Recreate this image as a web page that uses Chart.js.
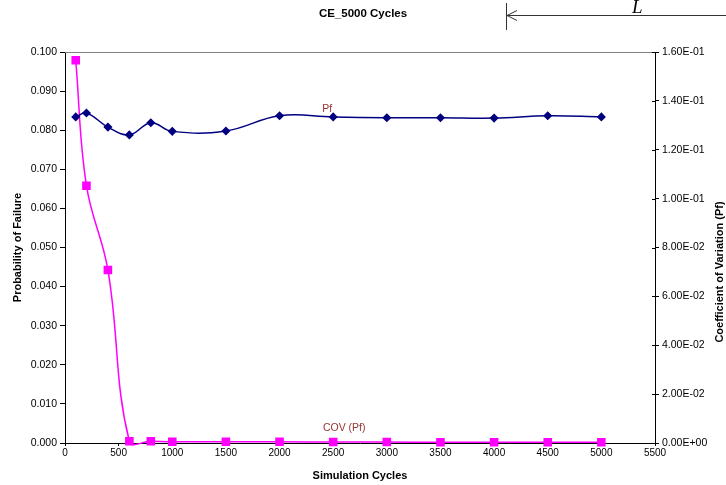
<!DOCTYPE html>
<html>
<head>
<meta charset="utf-8">
<script src="https://cdn.jsdelivr.net/npm/chart.js@4"></script>
<style>
  html, body { margin: 0; padding: 0; background: #fff; }
  #wrap { width: 726px; height: 485px; }
</style>
</head>
<body>
<div id="wrap"><canvas id="ce-chart"></canvas></div>
<script>
const cycles = [100, 200, 400, 600, 800, 1000, 1500, 2000, 2500, 3000, 3500, 4000, 4500, 5000];
const pf = [0.0834, 0.0844, 0.0808, 0.0788, 0.0819, 0.0797, 0.0798, 0.0837, 0.0834, 0.0832, 0.0832, 0.0831, 0.0837, 0.0834];
const cov = [0.1566, 0.1053, 0.0708, 0.0007, 0.0007, 0.0005, 0.0005, 0.0005, 0.0004, 0.0004, 0.0003, 0.0003, 0.0003, 0.0003];
const seriesNames = ['Pf', 'COV (Pf)'];

const font = 'Liberation Sans, Arial, sans-serif';

function sci(v) {
  if (Math.abs(v) < 1e-12) return '0.00E+00';
  const parts = v.toExponential(2).split('e');
  const n = parseInt(parts[1], 10);
  return parts[0] + 'E' + (n < 0 ? '-' : '+') + String(Math.abs(n)).padStart(2, '0');
}

// series name labels, the border line on top, the right axis title and the arrow note
const extras = {
  id: 'extras',
  afterDatasetsDraw(chart) {
    const ctx = chart.ctx;
    const area = chart.chartArea;
    ctx.save();

    ctx.strokeStyle = '#808080';
    ctx.lineWidth = 1;
    ctx.beginPath();
    ctx.moveTo(area.left, area.top + 0.5);
    ctx.lineTo(area.right, area.top + 0.5);
    ctx.stroke();

    // inner halves of the right axis ticks
    const y2 = chart.scales.y2;
    ctx.strokeStyle = '#000';
    ctx.beginPath();
    y2.ticks.forEach((t, i) => {
      const py = Math.round(y2.getPixelForTick(i)) + 0.5;
      ctx.moveTo(area.right - 3, py);
      ctx.lineTo(area.right, py);
    });
    ctx.stroke();

    ctx.font = '10.5px ' + font;
    ctx.fillStyle = '#993333';
    ctx.textAlign = 'center';
    ctx.textBaseline = 'middle';
    const p0 = chart.getDatasetMeta(0).data[8];
    ctx.fillText(seriesNames[0], p0.x - 6, p0.y - 8);
    const p1 = chart.getDatasetMeta(1).data[8];
    ctx.fillText(seriesNames[1], p1.x + 11, p1.y - 14);

    ctx.fillStyle = '#000';
    ctx.font = 'bold 11px ' + font;
    ctx.translate(720, 272);
    ctx.rotate(-Math.PI / 2);
    ctx.fillText('Coefficient of Variation (Pf)', 0, 0);
    ctx.setTransform(1, 0, 0, 1, 0, 0);

    ctx.strokeStyle = '#333';
    ctx.beginPath();
    ctx.moveTo(506.5, 3);
    ctx.lineTo(506.5, 30);
    ctx.moveTo(507, 15.5);
    ctx.lineTo(726, 15.5);
    ctx.moveTo(507, 15.5);
    ctx.lineTo(517, 10.5);
    ctx.moveTo(507, 15.5);
    ctx.lineTo(517, 20.5);
    ctx.stroke();
    ctx.fillStyle = '#000';
    ctx.font = 'italic 19px Liberation Serif, serif';
    ctx.textAlign = 'left';
    ctx.textBaseline = 'alphabetic';
    ctx.fillText('L', 632, 13);
    ctx.restore();
  }
};

const ctx = document.getElementById('ce-chart').getContext('2d');
const ceChart = new Chart(ctx, {
  type: 'line',
  data: {
    datasets: [{
      label: seriesNames[0],
      data: cycles.map((c, i) => ({ x: c, y: pf[i] })),
      yAxisID: 'y',
      borderColor: '#000080',
      backgroundColor: '#000080',
      borderWidth: 1.5,
      pointStyle: 'rectRot',
      pointRadius: 3.5,
      tension: 0.4
    }, {
      label: seriesNames[1],
      data: cycles.map((c, i) => ({ x: c, y: cov[i] })),
      yAxisID: 'y2',
      borderColor: '#FF00FF',
      backgroundColor: '#FF00FF',
      borderWidth: 1.5,
      pointStyle: 'rect',
      pointRadius: 5,
      tension: 0.4,
      clip: 6
    }]
  },
  options: {
    responsive: true,
    maintainAspectRatio: false,
    animation: false,
    layout: { padding: 0 },
    elements: { line: { capBezierPoints: false } },
    plugins: {
      legend: { display: false },
      tooltip: { enabled: false },
      title: {
        display: true,
        text: 'CE_5000 Cycles',
        color: '#000',
        font: { family: font, size: 11.5, weight: 'bold' },
        padding: { top: 7, bottom: 31.2 }
      }
    },
    scales: {
      x: {
        type: 'linear',
        min: 0,
        max: 5500,
        afterFit(s) { s.height = 42; },
        ticks: {
          stepSize: 500,
          color: '#000',
          padding: 1,
          maxRotation: 0,
          font: { family: font, size: 10 },
          callback: v => String(v)
        },
        grid: { drawOnChartArea: false, tickLength: 3, color: '#000' },
        border: { color: '#000' },
        title: {
          display: true,
          text: 'Simulation Cycles',
          color: '#000',
          font: { family: font, size: 11, weight: 'bold' },
          padding: { top: 0, bottom: 2 }
        }
      },
      y: {
        position: 'left',
        min: 0,
        max: 0.1,
        afterFit(s) { s.width = 65; },
        ticks: {
          stepSize: 0.01,
          color: '#000',
          padding: 3,
          font: { family: font, size: 10.5 },
          callback: v => v.toFixed(3)
        },
        grid: { drawOnChartArea: false, tickLength: 5, color: '#000' },
        border: { color: '#000' },
        title: {
          display: true,
          text: 'Probability of Failure',
          color: '#000',
          font: { family: font, size: 11, weight: 'bold' },
          padding: { top: 11, bottom: 0 }
        }
      },
      y2: {
        position: 'right',
        min: 0,
        max: 0.16,
        afterFit(s) { s.width = 71; },
        ticks: {
          stepSize: 0.02,
          color: '#000',
          padding: 3,
          font: { family: font, size: 10.5 },
          callback: v => sci(v)
        },
        grid: { drawOnChartArea: false, tickLength: 4, color: '#000' },
        border: { color: '#000' }
      }
    }
  },
  plugins: [extras]
});
</script>
</body>
</html>
